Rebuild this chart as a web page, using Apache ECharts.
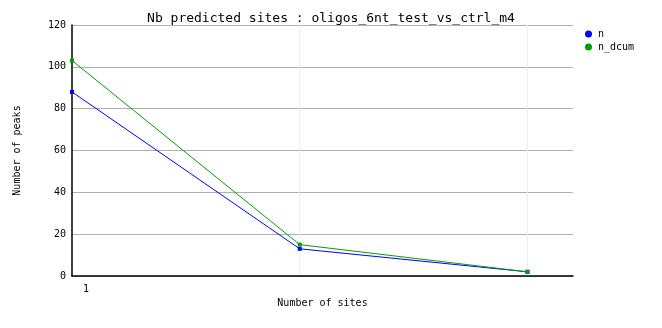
<!DOCTYPE html>
<html>
<head>
<meta charset="utf-8">
<script src="https://cdn.jsdelivr.net/npm/echarts@6/dist/echarts.min.js"></script>
<style>
html,body{margin:0;padding:0;background:#fff;}
#c{width:662px;height:328px;}
</style>
</head>
<body>
<div id="c"></div>
<script>
var sites = [1, 2, 3];
var nValues = [88, 13, 2];
var nDcumValues = [103, 15, 2];
var yTicks = [0, 20, 40, 60, 80, 100, 120];
var xTickLabels = ['1'];

var FONT = '"DejaVu Sans Mono", monospace';
var chart = echarts.init(document.getElementById('c'), null, {renderer: 'canvas'});
function pairs(xs, ys) { return xs.map(function (x, i) { return [x, ys[i]]; }); }
chart.setOption({
  animation: false,
  backgroundColor: '#ffffff',
  title: {
    text: 'Nb predicted sites : oligos_6nt_test_vs_ctrl_m4',
    left: 'center', top: 7,
    textStyle: {fontFamily: FONT, fontSize: 13, fontWeight: 'normal', color: '#000'}
  },
  legend: {
    orient: 'vertical', left: 580, top: 24, itemGap: 3,
    itemWidth: 7, itemHeight: 7, icon: 'circle',
    textStyle: {fontFamily: FONT, fontSize: 10, color: '#000', padding: [0, 0, 0, 1]},
    data: ['n', 'n_dcum']
  },
  grid: {left: 72, right: 89, top: 25, bottom: 52, containLabel: false},
  xAxis: {
    type: 'value', min: 1, max: 3.2, interval: 1,
    name: 'Number of sites', nameLocation: 'middle', nameGap: 22,
    nameTextStyle: {fontFamily: FONT, fontSize: 10, color: '#000'},
    axisLine: {show: true, onZero: false, lineStyle: {color: '#000', width: 1.5}},
    axisTick: {show: false},
    splitLine: {show: true, showMinLine: false, showMaxLine: false, lineStyle: {color: '#eeeeee', width: 1}},
    axisLabel: {
      fontFamily: FONT, fontSize: 10, color: '#000', margin: 8,
      showMaxLabel: false,
      padding: [0, 0, 0, 28],
      formatter: function (v) { return v === sites[0] ? xTickLabels[0] : ''; }
    }
  },
  yAxis: {
    type: 'value', min: yTicks[0], max: yTicks[yTicks.length - 1], interval: 20,
    name: 'Number of peaks', nameLocation: 'middle', nameGap: 50,
    nameTextStyle: {fontFamily: FONT, fontSize: 10, color: '#000'},
    axisLine: {show: true, lineStyle: {color: '#000', width: 1.5}},
    axisTick: {show: false},
    splitLine: {show: true, lineStyle: {color: '#b0b0b0', width: 1}},
    axisLabel: {fontFamily: FONT, fontSize: 10, color: '#000', margin: 6}
  },
  series: [
    {
      name: 'n', type: 'line', data: pairs(sites, nValues),
      color: '#0000ff', symbol: 'rect', symbolSize: 4,
      lineStyle: {width: 1, color: '#0000ff'}, itemStyle: {color: '#0000ff'}
    },
    {
      name: 'n_dcum', type: 'line', data: pairs(sites, nDcumValues),
      color: '#00a000', symbol: 'rect', symbolSize: 4,
      lineStyle: {width: 1, color: '#00a000'}, itemStyle: {color: '#00a000'}
    }
  ]
});
</script>
</body>
</html>
